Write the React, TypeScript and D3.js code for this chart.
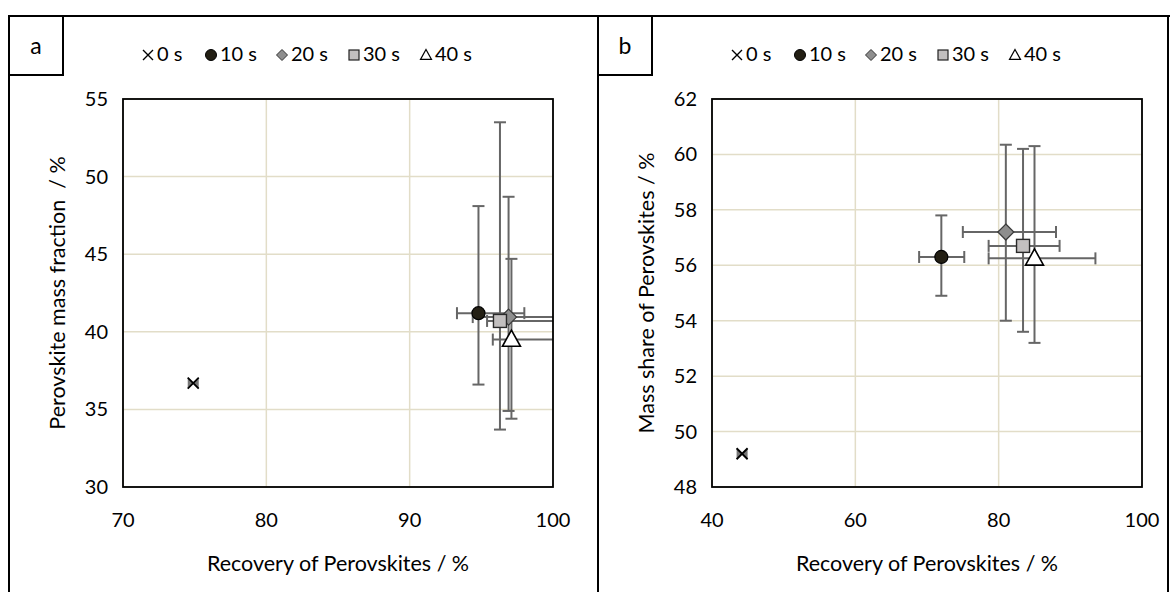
import React from "react";
import * as d3 from "d3";

// ---------- data ----------
const seriesNames = ["0 s", "10 s", "20 s", "30 s", "40 s"];
const markerTypes = ["x", "circle", "diamond", "square", "triangle"];

// Panel a
const aX = [74.9, 94.8, 96.9, 96.3, 97.1];
const aY = [36.7, 41.2, 40.95, 40.7, 39.5];
const aXLow = [74.9, 93.3, 94.4, 95.4, 95.8];
const aXHigh = [74.9, 98.0, 102, 102, 102];
const aYLow = [36.7, 36.6, 34.9, 33.7, 34.4];
const aYHigh = [36.7, 48.1, 48.7, 53.5, 44.7];
const aXTicks = [70, 80, 90, 100];
const aYTicks = [30, 35, 40, 45, 50, 55];

// Panel b
const bX = [44.2, 72.0, 81.0, 83.4, 85.0];
const bY = [49.2, 56.3, 57.2, 56.7, 56.25];
const bXLow = [44.2, 68.9, 75.0, 78.6, 78.6];
const bXHigh = [44.2, 75.2, 88.0, 88.5, 93.5];
const bYLow = [49.2, 54.9, 54.0, 53.6, 53.2];
const bYHigh = [49.2, 57.8, 60.35, 60.2, 60.3];
const bXTicks = [40, 60, 80, 100];
const bYTicks = [48, 50, 52, 54, 56, 58, 60, 62];

const FONT = "Lato, 'Open Sans', sans-serif";
const GRID = "#e2ddc8";
const EB = "#666666";

function Marker({ type, x, y }: { type: string; x: number; y: number }) {
  if (type === "circle")
    return <circle cx={x} cy={y} r={6.5} fill="#231f14" stroke="#000" strokeWidth={1.2} />;
  if (type === "diamond") {
    const s = 8;
    return (
      <path
        d={`M${x},${y - s}L${x + s},${y}L${x},${y + s}L${x - s},${y}Z`}
        fill="#8e8e8e"
        stroke="#3a3a3a"
        strokeWidth={1.2}
      />
    );
  }
  if (type === "square")
    return <rect x={x - 6.5} y={y - 6.5} width={13} height={13} fill="#c2bfbf" stroke="#2a2a2a" strokeWidth={1.4} />;
  if (type === "triangle") {
    const s = 9;
    return (
      <path
        d={`M${x},${y - s * 1.05}L${x + s},${y + s * 0.75}L${x - s},${y + s * 0.75}Z`}
        fill="#fff"
        stroke="#000"
        strokeWidth={1.6}
      />
    );
  }
  const s = 5.5;
  return (
    <g>
      <path d={`M${x - s},${y - s}L${x},${y}L${x - s},${y + s}Z M${x + s},${y - s}L${x},${y}L${x + s},${y + s}Z`} fill="#777" />
      <path d={`M${x - s},${y - s}L${x + s},${y + s}M${x + s},${y - s}L${x - s},${y + s}`} stroke="#000" strokeWidth={1.8} />
    </g>
  );
}

function LegendIcon({ type, x, y }: { type: string; x: number; y: number }) {
  if (type === "circle") return <circle cx={x} cy={y} r={5.5} fill="#231f14" stroke="#000" strokeWidth={1} />;
  if (type === "diamond") {
    const s = 5.5;
    return <path d={`M${x},${y - s}L${x + s},${y}L${x},${y + s}L${x - s},${y}Z`} fill="#8e8e8e" stroke="#333" strokeWidth={1} />;
  }
  if (type === "square")
    return <rect x={x - 5} y={y - 5} width={10} height={10} fill="#c2bfbf" stroke="#222" strokeWidth={1.2} />;
  if (type === "triangle") {
    const s = 5.5;
    return <path d={`M${x},${y - s}L${x + s},${y + s * 0.8}L${x - s},${y + s * 0.8}Z`} fill="#fff" stroke="#000" strokeWidth={1.2} />;
  }
  const s = 5;
  return <path d={`M${x - s},${y - s}L${x + s},${y + s}M${x + s},${y - s}L${x - s},${y + s}`} stroke="#000" strokeWidth={1.4} />;
}

const legendIconX = [139, 202, 273, 345, 417];
const legendTextX = [148, 211, 282, 354, 426];

function Panel(props: {
  ox: number;
  label: string;
  xs: number[];
  ys: number[];
  xl: number[];
  xh: number[];
  yl: number[];
  yh: number[];
  xDomain: [number, number];
  yDomain: [number, number];
  xTicks: number[];
  yTicks: number[];
  yTitle: string;
  clipId: string;
}) {
  const { ox } = props;
  const left = ox + 114;
  const right = ox + 544;
  const top = 99;
  const bottom = 487;
  const x = d3.scaleLinear().domain(props.xDomain).range([left, right]);
  const y = d3.scaleLinear().domain(props.yDomain).range([bottom, top]);
  const cap = 6;
  return (
    <g>
      <defs>
        <clipPath id={props.clipId}>
          <rect x={left} y={top} width={right - left} height={bottom - top} />
        </clipPath>
      </defs>
      <rect x={ox} y={16} width={54} height={59} fill="none" stroke="#000" strokeWidth={2} />
      <text x={ox + 27} y={54} textAnchor="middle" fontSize={23} fontFamily={FONT} fill="#000">
        {props.label}
      </text>
      {seriesNames.map((n, i) => (
        <g key={n}>
          <LegendIcon type={markerTypes[i]} x={ox + legendIconX[i]} y={55} />
          <text x={ox + legendTextX[i]} y={61} fontSize={20} fontFamily={FONT} fill="#000">
            {n}
          </text>
        </g>
      ))}
      {props.xTicks.map((t) => (
        <line key={"gx" + t} x1={x(t)} x2={x(t)} y1={top} y2={bottom} stroke={GRID} strokeWidth={1.5} />
      ))}
      {props.yTicks.map((t) => (
        <line key={"gy" + t} x1={left} x2={right} y1={y(t)} y2={y(t)} stroke={GRID} strokeWidth={1.5} />
      ))}
      {props.xTicks.map((t) => (
        <text key={"tx" + t} x={x(t)} y={527} textAnchor="middle" fontSize={20} fontFamily={FONT} fill="#000">
          {t}
        </text>
      ))}
      {props.yTicks.map((t) => (
        <text key={"ty" + t} x={left - 15} y={y(t) + 7} textAnchor="end" fontSize={20} fontFamily={FONT} fill="#000">
          {t}
        </text>
      ))}
      <text x={(left + right) / 2} y={571} textAnchor="middle" fontSize={21.5} fontFamily={FONT} fill="#000">
        Recovery of Perovskites / %
      </text>
      <text
        transform={`translate(${ox + 56},${(top + bottom) / 2}) rotate(-90)`}
        textAnchor="middle"
        fontSize={21.5}
        fontFamily={FONT}
        fill="#000"
        style={{ whiteSpace: "pre" }}
      >
        {props.yTitle}
      </text>
      <g clipPath={`url(#${props.clipId})`}>
        {props.xs.map((_, i) => {
          if (i === 0) return null;
          const cx = x(props.xs[i]);
          const cy = y(props.ys[i]);
          const x1 = x(props.xl[i]);
          const x2 = x(props.xh[i]);
          const y1 = y(props.yl[i]);
          const y2 = y(props.yh[i]);
          return (
            <g key={"eb" + i} stroke={EB} strokeWidth={2} fill="none">
              <line x1={cx} x2={cx} y1={y1} y2={y2} />
              <line x1={cx - cap} x2={cx + cap} y1={y1} y2={y1} />
              <line x1={cx - cap} x2={cx + cap} y1={y2} y2={y2} />
              <line x1={x1} x2={x2} y1={cy} y2={cy} />
              <line x1={x1} x2={x1} y1={cy - cap} y2={cy + cap} />
              <line x1={x2} x2={x2} y1={cy - cap} y2={cy + cap} />
            </g>
          );
        })}
      </g>
      {props.xs.map((_, i) => (
        <Marker key={"m" + i} type={markerTypes[i]} x={x(props.xs[i])} y={y(props.ys[i])} />
      ))}
      <rect x={left} y={top} width={right - left} height={bottom - top} fill="none" stroke="#000" strokeWidth={1.8} />
    </g>
  );
}

export default function App() {
  return (
    <svg width={1170} height={592} style={{ position: "absolute", left: 0, top: 0, background: "#fff" }}>
      <rect x={0} y={0} width={1170} height={592} fill="#fff" />
      <line x1={9} x2={1170} y1={16} y2={16} stroke="#000" strokeWidth={2} />
      <line x1={9} x2={9} y1={16} y2={592} stroke="#000" strokeWidth={2} />
      <line x1={598} x2={598} y1={16} y2={592} stroke="#000" strokeWidth={2} />
      <line x1={1168} x2={1168} y1={16} y2={592} stroke="#000" strokeWidth={2} />
      <Panel
        ox={9}
        label="a"
        xs={aX}
        ys={aY}
        xl={aXLow}
        xh={aXHigh}
        yl={aYLow}
        yh={aYHigh}
        xDomain={[70, 100]}
        yDomain={[30, 55]}
        xTicks={aXTicks}
        yTicks={aYTicks}
        yTitle={"Perovskite mass fraction  / %"}
        clipId="clipA"
      />
      <Panel
        ox={598}
        label="b"
        xs={bX}
        ys={bY}
        xl={bXLow}
        xh={bXHigh}
        yl={bYLow}
        yh={bYHigh}
        xDomain={[40, 100]}
        yDomain={[48, 62]}
        xTicks={bXTicks}
        yTicks={bYTicks}
        yTitle={"Mass share of Perovskites / %"}
        clipId="clipB"
      />
    </svg>
  );
}
